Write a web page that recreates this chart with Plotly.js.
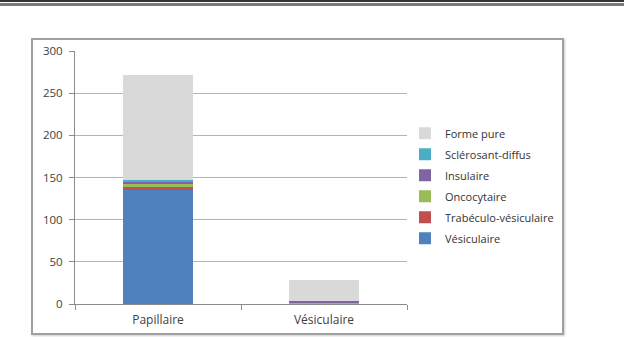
<!DOCTYPE html>
<html>
<head>
<meta charset="utf-8">
<script src="https://cdn.plot.ly/plotly-3.0.1.min.js"></script>
<style>
  html, body { margin: 0; padding: 0; background: #fff; width: 624px; height: 337px; overflow: hidden; }
  #topline1 { position: absolute; left: 0; top: 0; width: 624px; height: 2px; background: #333; }
  #topline2 { position: absolute; left: 0; top: 3px; width: 624px; height: 3px; background: #7a7a7a; }
  #frame { position: absolute; left: 31px; top: 38px; width: 529px; height: 293px; border: 2px solid #a0a0a0; box-shadow: 1px 1px 2px #ccc; }
  #chart { position: absolute; left: 0; top: 0; width: 624px; height: 337px; }
</style>
</head>
<body>
<div id="topline1"></div>
<div id="topline2"></div>
<div id="frame"></div>
<div id="chart"></div>
<script>
const categories = ['Papillaire', 'Vésiculaire'];
const vesiculaire = [135, 0];
const trabeculoVesiculaire = [4, 0];
const oncocytaire = [3, 1];
const insulaire = [3, 2];
const sclerosantDiffus = [2, 0];
const formePure = [125, 25];
const yTicks = [0, 50, 100, 150, 200, 250, 300];

const series = [
  ['Vésiculaire', vesiculaire, '#4f81bd'],
  ['Trabéculo-vésiculaire', trabeculoVesiculaire, '#c0504d'],
  ['Oncocytaire', oncocytaire, '#9bbb59'],
  ['Insulaire', insulaire, '#8064a2'],
  ['Sclérosant-diffus', sclerosantDiffus, '#4bacc6'],
  ['Forme pure', formePure, '#d9d9d9']
];

const traces = series.map(([name, vals, color], i) => ({
  type: 'bar',
  name: name,
  legendgroup: 'g' + i,
  legendrank: 1000 - i,
  x: categories,
  y: vals,
  marker: { color: color, line: { width: 0 } }
}));

const layout = {
  width: 624,
  height: 337,
  paper_bgcolor: 'rgba(0,0,0,0)',
  plot_bgcolor: 'rgba(0,0,0,0)',
  barmode: 'stack',
  bargap: 0.58,
  margin: { l: 75, r: 217, t: 51, b: 33 },
  font: { family: 'Open Sans, Liberation Sans, sans-serif', size: 11, color: '#404040' },
  xaxis: {
    showline: true, linecolor: '#8c8c8c', linewidth: 1,
    ticks: 'outside', tickson: 'boundaries', ticklen: 5, tickcolor: '#8c8c8c',
    ticklabelstandoff: 5,
    showgrid: false, tickfont: { size: 12, color: '#404040' }
  },
  yaxis: {
    range: [0, 300], tickvals: yTicks, ticktext: yTicks.map(String),
    showline: true, linecolor: '#8c8c8c', linewidth: 1,
    ticks: 'outside', ticklen: 5, tickcolor: '#8c8c8c',
    ticklabelstandoff: 4,
    showgrid: true, gridcolor: '#b4b4b4', gridwidth: 1,
    zeroline: false, tickfont: { size: 11.5, color: '#404040' }
  },
  legend: {
    x: 0.994, xanchor: 'left', y: 0.732, yanchor: 'top',
    traceorder: 'grouped',
    tracegroupgap: 2,
    font: { size: 11, color: '#333' },
    bgcolor: 'rgba(0,0,0,0)'
  },
  showlegend: true
};

Plotly.newPlot('chart', traces, layout, { displayModeBar: false, staticPlot: true });
</script>
</body>
</html>
